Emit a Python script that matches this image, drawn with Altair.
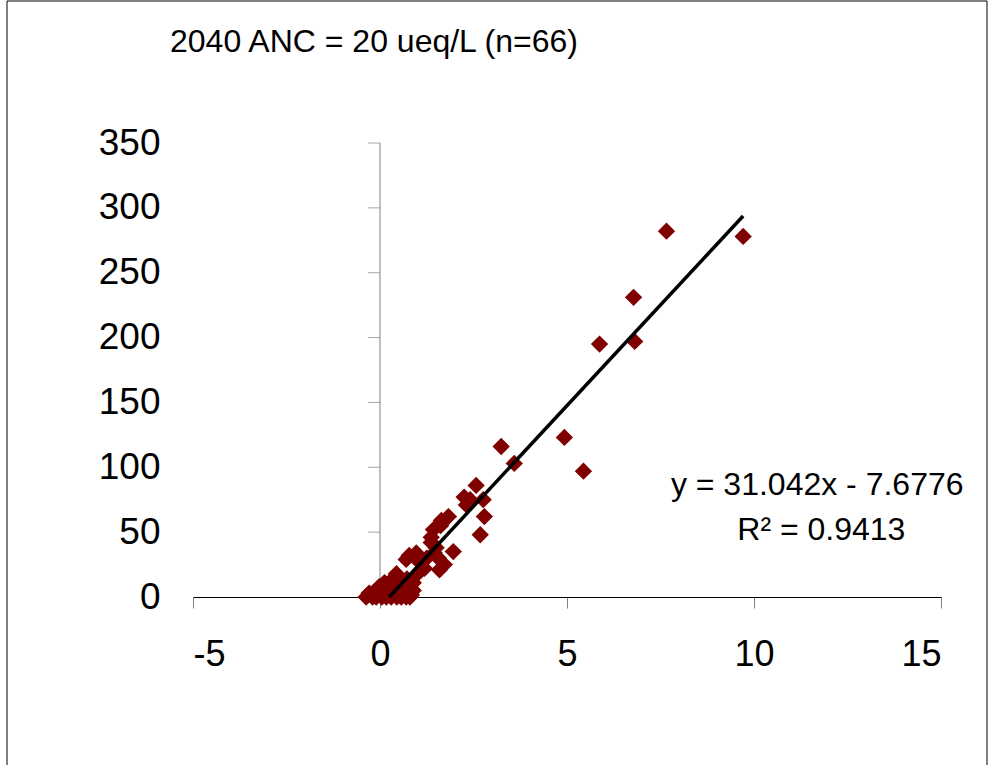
import altair as alt
import pandas as pd

title_text = "2040 ANC = 20 ueq/L (n=66)"

x_vals = [7.66, 9.71, 6.78, 6.81, 5.87, 4.93, 5.44, 3.59, 3.24, 2.57, 2.76, 2.79, 2.68,
          2.25, 2.41, 2.31, 1.83, 1.64, 1.43, 1.37, 1.37, 1.96, 1.72, 1.56, 1.45, 1.19,
          0.97, 0.78, 0.70, 0.44, 1.10, 1.59, 0.89, 0.78, 0.38, 0.12, -0.02, -0.29, -0.37,
          -0.20, -0.10, 0.17, 0.30, 0.44, 0.57, 0.70, 0.84, 0.89, 0.65, 0.52, 0.25, 0.97,
          0.05, 0.10, 0.35, 0.45, 0.60, 0.75, 0.80, 0.50, 0.62, 0.72, 1.05, 1.25, 1.50, 1.62]
y_vals = [282, 278, 231, 197, 195, 123, 97, 103, 116, 86, 75, 62, 48,
          77, 75, 71, 62, 59, 52, 46, 42, 35, 25, 30, 34, 22,
          34, 32, 29, 18, 21, 21, 11, 8, 15, 11, 8, 3, 0,
          0, 0, 0, 0, 1.5, 0, 0, 1.5, 5, 5, 9, 5, 17,
          0, 2, 3, 0, 2, 3, 0, 6, 11, 14, 27, 30, 38, 55]

slope = 31.042
intercept = -7.6776
r_squared = 0.9413
trend_x = [0.247, 9.71]

x_ticks = [-5, 0, 5, 10, 15]
y_ticks = [0, 50, 100, 150, 200, 250, 300, 350]

eq_x = [11.69, 11.80]
eq_y = [86.4, 51.7]
eq_text = [f"y = {slope}x - {abs(intercept)}", f"R\u00b2 = {r_squared}"]

FONT = "Liberation Sans"

pts = pd.DataFrame({"x": x_vals, "y": y_vals})
trend = pd.DataFrame({"x": trend_x, "y": [slope * v + intercept for v in trend_x]})
eq_df = pd.DataFrame({"x": eq_x, "y": eq_y, "t": eq_text})
one = pd.DataFrame({"t": [title_text]})
yaxis_df = pd.DataFrame({"y0": [y_ticks[0]], "y1": [y_ticks[-1]]})
ytick_df = pd.DataFrame({"y": y_ticks[1:]})

xscale = alt.Scale(domain=[x_ticks[0], x_ticks[-1]], nice=False, zero=False)
yscale = alt.Scale(domain=[y_ticks[0], y_ticks[-1]], nice=False)

xaxis = alt.Axis(values=x_ticks, grid=False, domainColor="black", domainWidth=1,
                 tickColor="#808080", tickSize=11, tickWidth=1,
                 labelFontSize=36, labelPadding=29, labelColor="black",
                 labelFont=FONT, title=None, labelExpr="toString(datum.value)")
yaxis = alt.Axis(values=y_ticks, grid=False, domain=False, ticks=False,
                 labelFontSize=37, labelPadding=33, labelColor="black",
                 labelFont=FONT, title=None, labelExpr="toString(datum.value)")

frame = alt.Chart(one).mark_rect(fillOpacity=0, stroke="black", strokeWidth=1).encode(
    x=alt.value(-186), x2=alt.value(794), y=alt.value(-142), y2=alt.value(660)
)

yline = alt.Chart(yaxis_df).mark_rule(color="#808080", strokeWidth=1).encode(
    x=alt.X(datum=0, scale=xscale, axis=xaxis),
    y=alt.Y("y0:Q", scale=yscale, axis=yaxis),
    y2="y1:Q",
)

yticks = alt.Chart(ytick_df).mark_tick(orient="horizontal", size=12, thickness=1,
                                        color="#808080", xOffset=-6).encode(
    x=alt.X(datum=0, scale=xscale, axis=xaxis),
    y=alt.Y("y:Q", scale=yscale, axis=yaxis),
)

points = alt.Chart(pts).mark_point(shape="diamond", filled=True, size=300,
                                   color="#800000", opacity=1, strokeWidth=0).encode(
    x=alt.X("x:Q", scale=xscale, axis=xaxis),
    y=alt.Y("y:Q", scale=yscale, axis=yaxis),
)

line = alt.Chart(trend).mark_line(color="black", strokeWidth=3.5).encode(
    x=alt.X("x:Q", scale=xscale, axis=xaxis),
    y=alt.Y("y:Q", scale=yscale, axis=yaxis),
)

eq = alt.Chart(eq_df).mark_text(fontSize=32, font=FONT, color="black",
                                align="center", baseline="middle").encode(
    x=alt.X("x:Q", scale=xscale, axis=xaxis),
    y=alt.Y("y:Q", scale=yscale, axis=yaxis),
    text="t:N",
)

title = alt.Chart(one).mark_text(fontSize=32, font=FONT, color="black",
                                 align="left", baseline="alphabetic").encode(
    x=alt.value(-23), y=alt.value(-91), text="t:N"
)

chart = alt.layer(frame, yline, yticks, points, line, eq, title).properties(
    width=748, height=454,
    padding={"left": 193, "top": 143, "right": 48, "bottom": 168},
    autosize=alt.AutoSizeParams(type="none"),
    background="white",
).configure(font=FONT).configure_view(strokeWidth=0)

chart.save("out.html", embed_options={"renderer": "svg", "actions": False})
